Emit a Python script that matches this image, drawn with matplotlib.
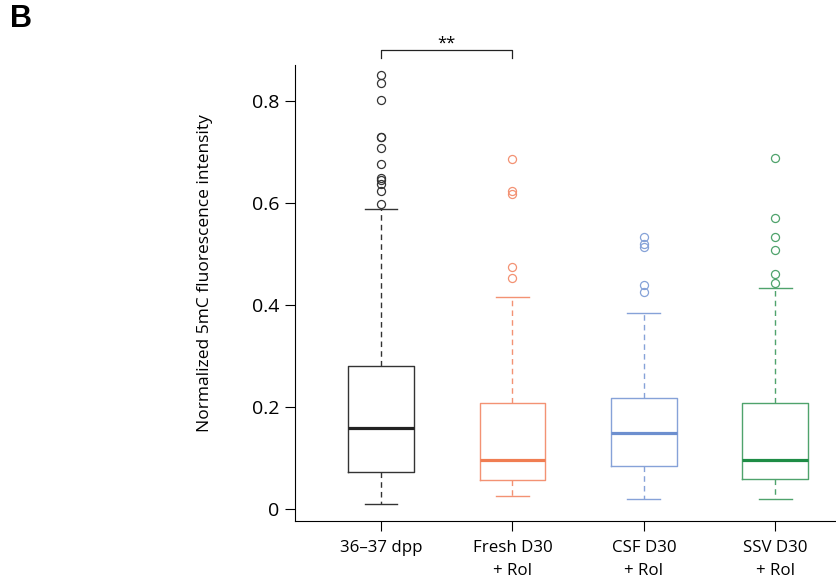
import matplotlib
matplotlib.use('Agg')
import matplotlib.pyplot as plt

plt.rcParams['font.family'] = ['Open Sans', 'DejaVu Sans']

# --- Data --------------------------------------------------------------------
groups   = ['36\u201337 dpp', 'Fresh D30\n+ Rol', 'CSF D30\n+ Rol', 'SSV D30\n+ Rol']
colors   = ['#222222', '#F07D52', '#6D8FCF', '#1E8C45']
edges    = ['#333333', '#F39273', '#86A2D8', '#4FA36C']
medians  = [0.158, 0.097, 0.150, 0.097]
q1       = [0.073, 0.057, 0.084, 0.058]
q3       = [0.281, 0.207, 0.217, 0.208]
wlo      = [0.010, 0.025, 0.020, 0.019]
whi      = [0.588, 0.416, 0.384, 0.433]
outliers = [
    [0.852, 0.835, 0.803, 0.730, 0.729, 0.709, 0.676, 0.649, 0.646, 0.638, 0.624, 0.599],
    [0.686, 0.624, 0.618, 0.474, 0.454],
    [0.533, 0.520, 0.514, 0.439, 0.425],
    [0.689, 0.571, 0.533, 0.508, 0.462, 0.444],
]
yticks = [0, 0.2, 0.4, 0.6, 0.8]

fig = plt.figure(figsize=(8.37, 5.79), dpi=100)
ax = fig.add_axes([295 / 837, 1 - 521 / 579, (837 - 295) / 837, (521 - 65) / 579])

for i in range(len(groups)):
    stats = [{'med': medians[i], 'q1': q1[i], 'q3': q3[i],
              'whislo': wlo[i], 'whishi': whi[i], 'fliers': outliers[i]}]
    c = colors[i]
    e = edges[i]
    ax.bxp(stats, positions=[i + 1], widths=0.5, showfliers=True,
           boxprops=dict(color=e, lw=1.0),
           medianprops=dict(color=c, lw=2.3, solid_capstyle='butt'),
           whiskerprops=dict(color=e, lw=1.0, linestyle=(0, (4, 3))),
           capprops=dict(color=e, lw=1.0),
           flierprops=dict(marker='o', markerfacecolor='none', markeredgecolor=e,
                           markersize=5.8, markeredgewidth=0.9),
           capwidths=0.25)

ax.set_xlim(0.345, 4.47)
ax.set_ylim(-0.0235, 0.871)
ax.set_yticks(yticks)
ax.set_yticklabels(['0', '0.2', '0.4', '0.6', '0.8'], fontsize=14)
ax.set_xticks(range(1, len(groups) + 1))
ax.set_xticklabels(groups, fontsize=12.2, linespacing=1.55)
ax.spines['top'].set_visible(False)
ax.spines['right'].set_visible(False)
ax.spines['left'].set_bounds(-0.0235, 0.871)
ax.tick_params(axis='y', length=7, width=0.8, pad=4)
ax.tick_params(axis='x', length=7, width=0.8, pad=7)
ax.set_ylabel('Normalized 5mC fluorescence intensity', fontsize=12.5, va='center')
ax.yaxis.set_label_coords(-0.166, 0.544)

# significance bracket
yb = 0.900
ax.plot([1, 1, 2, 2], [yb - 0.016, yb, yb, yb - 0.016], color='#222222', lw=0.9, clip_on=False)
ax.text(1.5, yb - 0.002, '**', ha='center', va='bottom', fontsize=12)

fig.text(10 / 837, 1 - 4 / 579, 'B', fontsize=22, fontweight='bold', ha='left', va='top',
         family=['Liberation Sans', 'DejaVu Sans'])

fig.savefig('out.png', dpi=100)
